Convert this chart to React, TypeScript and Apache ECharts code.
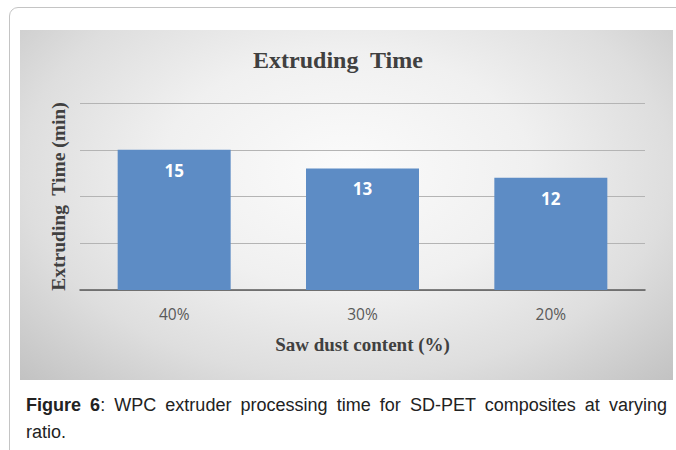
import React, { useEffect, useRef } from "react";
import * as echarts from "echarts";

const categories = ["40%", "30%", "20%"];
const values = [15, 13, 12];
const yTicks = [0, 5, 10, 15, 20];
const chartTitle = "Extruding  Time";
const yTitle = "Extruding  Time (min)";
const xTitle = "Saw dust content (%)";
const captionLabel = "Figure 6";
const captionLine1 = ": WPC extruder processing time for SD-PET composites at varying";
const captionLine2 = "ratio.";

export default function App() {
  const ref = useRef<HTMLDivElement>(null);
  useEffect(() => {
    if (!ref.current) return;
    const chart = echarts.init(ref.current, undefined, { renderer: "svg" });
    chart.setOption({
      animation: false,
      backgroundColor: "transparent",
      title: {
        text: chartTitle,
        left: "center",
        top: 43,
        textStyle: {
          fontFamily: "Liberation Serif",
          fontWeight: "bold",
          fontSize: 24,
          color: "#404040",
        },
      },
      grid: { left: 80, right: 31, top: 103, bottom: 160 },
      xAxis: {
        type: "category",
        data: categories,
        axisTick: { show: false },
        axisLine: { lineStyle: { color: "#595959", width: 1.5 } },
        axisLabel: {
          margin: 16,
          fontFamily: "Open Sans",
          fontSize: 15.5,
          color: "#595959",
        },
        name: xTitle,
        nameLocation: "middle",
        nameGap: 45,
        nameTextStyle: {
          fontFamily: "Liberation Serif",
          fontWeight: "bold",
          fontSize: 19,
          color: "#404040",
        },
      },
      yAxis: {
        type: "value",
        min: yTicks[0],
        max: yTicks[yTicks.length - 1],
        interval: 5,
        axisLabel: { show: false },
        axisLine: { show: false },
        axisTick: { show: false },
        splitLine: { lineStyle: { color: "#b4b4b4", width: 1 } },
        name: yTitle,
        nameLocation: "middle",
        nameGap: 12,
        nameTextStyle: {
          fontFamily: "Liberation Serif",
          fontWeight: "bold",
          fontSize: 19.5,
          color: "#404040",
        },
      },
      series: [
        {
          type: "bar",
          data: values,
          barWidth: "60%",
          itemStyle: { color: "#5d8cc5" },
          label: {
            show: true,
            position: "insideTop",
            distance: 12,
            color: "#ffffff",
            fontWeight: "bold",
            fontFamily: "Open Sans",
            fontSize: 17,
          },
        },
      ],
    });
    return () => chart.dispose();
  }, []);

  const captionStyle: React.CSSProperties = {
    position: "absolute",
    left: 26,
    width: 641,
    fontFamily: "Liberation Sans, Arial, sans-serif",
    fontSize: 18,
    lineHeight: "27px",
    color: "#222222",
    whiteSpace: "nowrap",
  };

  return (
    <div
      style={{
        position: "absolute",
        left: 0,
        top: 0,
        width: 676,
        height: 450,
        overflow: "hidden",
        background: "#ffffff",
      }}
    >
      <div
        style={{
          position: "absolute",
          left: 9,
          top: 7,
          width: 720,
          height: 520,
          border: "1px solid #c4c4c4",
          borderRadius: 9,
          boxSizing: "border-box",
        }}
      />
      <div
        style={{
          position: "absolute",
          left: 20,
          top: 30,
          width: 653,
          height: 350,
          background:
            "radial-gradient(ellipse at 50% 40%, #fbfbfb 0%, #f0f0f0 40%, #dedede 70%, #c2c2c2 100%)",
        }}
      />
      <div
        ref={ref}
        style={{ position: "absolute", left: 0, top: 0, width: 676, height: 450 }}
      />
      <div
        style={{
          ...captionStyle,
          top: 392,
          whiteSpace: "normal",
          textAlign: "justify",
          textAlignLast: "justify",
        }}
      >
        <span style={{ fontWeight: "bold" }}>{captionLabel}</span>
        <span>{captionLine1}</span>
      </div>
      <div style={{ ...captionStyle, top: 419 }}>{captionLine2}</div>
    </div>
  );
}
